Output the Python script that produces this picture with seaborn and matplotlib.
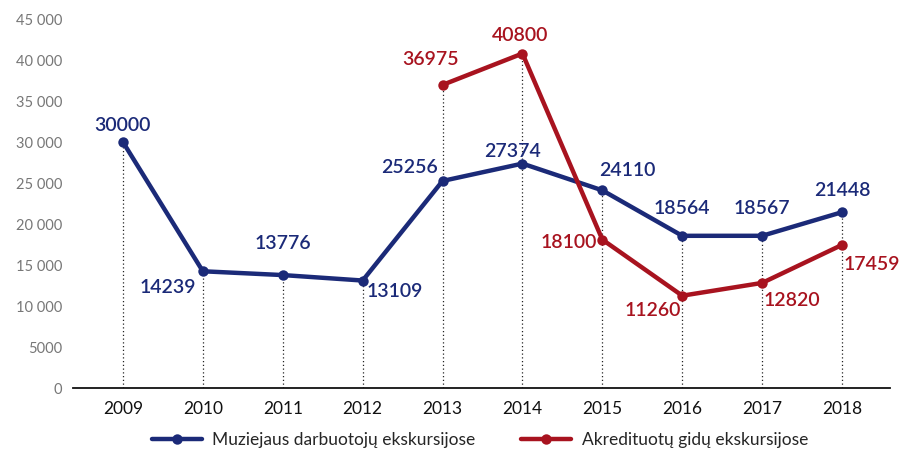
import pandas as pd
import matplotlib.pyplot as plt
import seaborn as sns
import numpy as np

# --- dados ---
metai = [2009, 2010, 2011, 2012, 2013, 2014, 2015, 2016, 2017, 2018]
muziejaus = [30000, 14239, 13776, 13109, 25256, 27374, 24110, 18564, 18567, 21448]
akredituotu = [np.nan, np.nan, np.nan, np.nan, 36975, 40800, 18100, 11260, 12820, 17459]
serijos = ['Muziejaus darbuotojų ekskursijose', 'Akredituotų gidų ekskursijose']
y_ticks = [0, 5000, 10000, 15000, 20000, 25000, 30000, 35000, 40000, 45000]
y_tick_labels = ['0', '5000', '10 000', '15 000', '20 000', '25 000',
                 '30 000', '35 000', '40 000', '45 000']

MELYNA = '#1b2a78'
RAUDONA = '#a8131f'

# label offsets in pixels (dx, dy)
off_m = [(0, 17), (-35, -16), (0, 32), (32, -11), (-33, 13),
         (-10, 12), (25, 20), (0, 27), (0, 27), (0, 22)]
off_a = [None, None, None, None, (-12, 25), (-2, 18), (-34, -3),
         (-30, -15), (30, -18), (30, -20)]

df = pd.DataFrame({
    'Metai': metai * 2,
    'Reikšmė': muziejaus + akredituotu,
    'Serija': [serijos[0]] * len(metai) + [serijos[1]] * len(metai),
})
df = df.dropna()

sns.set_style('white')
plt.rcParams['font.family'] = ['Lato', 'DejaVu Sans']

fig = plt.figure(figsize=(9.02, 4.54), dpi=100)
ax = fig.add_axes([73 / 902, 66 / 454, (890 - 73) / 902, (454 - 15 - 66) / 454])

# dotted guide lines
top = np.fmax(np.array(muziejaus, float), np.array(akredituotu, float))
ax.vlines(metai, 0, top, colors='#222222', linestyles=(0, (1, 2)), linewidth=0.9, zorder=1)

sns.lineplot(data=df, x='Metai', y='Reikšmė', hue='Serija', hue_order=serijos,
             palette={serijos[0]: MELYNA, serijos[1]: RAUDONA},
             marker='o', markersize=7.5, markeredgewidth=0, linewidth=3.2,
             ax=ax, zorder=3)

for i, x in enumerate(metai):
    ax.annotate(f'{muziejaus[i]}', (x, muziejaus[i]), xytext=off_m[i],
                textcoords='offset pixels', ha='center', va='center',
                fontsize=14, fontweight='semibold', color=MELYNA)
    if off_a[i] is not None:
        ax.annotate(f'{int(akredituotu[i])}', (x, akredituotu[i]), xytext=off_a[i],
                    textcoords='offset pixels', ha='center', va='center',
                    fontsize=14, fontweight='semibold', color=RAUDONA)

ax.set_xlim(2009 - 0.625, 2018 + 0.6)
ax.set_ylim(0, 45500)
ax.set_xticks(metai)
ax.set_xticklabels([str(m) for m in metai], fontsize=12.5, color='#111111')
ax.set_yticks(y_ticks)
ax.set_yticklabels(y_tick_labels, fontsize=10.5, color='#777777')
ax.tick_params(axis='x', length=0, pad=9)
ax.tick_params(axis='y', direction='in', length=9, width=1, color='#333333', pad=8)
ax.set_xlabel('')
ax.set_ylabel('')

for s in ['top', 'right', 'left']:
    ax.spines[s].set_visible(False)
ax.spines['bottom'].set_color('#111111')
ax.spines['bottom'].set_linewidth(1.3)

ax.get_legend().remove()
handles, labels = ax.get_legend_handles_labels()
fig.legend(handles, labels, loc='center', bbox_to_anchor=(0.532, 0.031), ncol=2,
           frameon=False, fontsize=12.5, handlelength=2.9, columnspacing=2.6,
           handletextpad=0.6)

plt.savefig('out.png', dpi=100)
plt.close()
